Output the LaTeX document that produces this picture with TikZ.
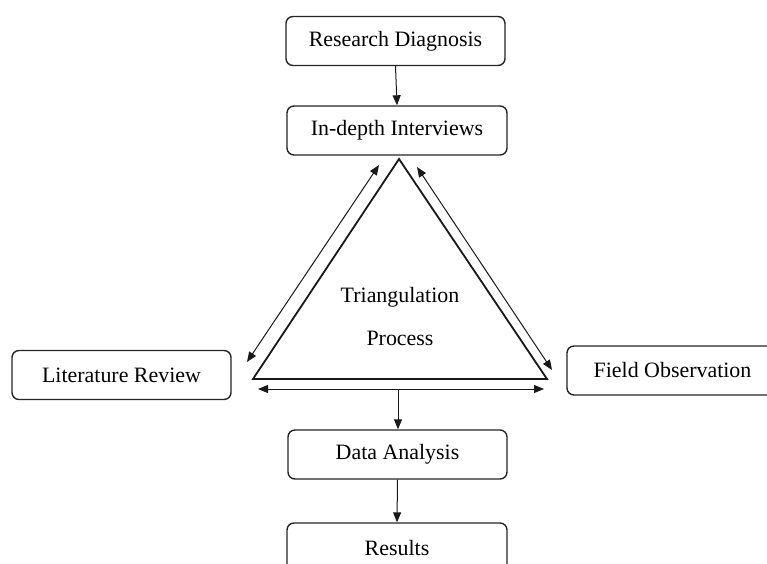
\documentclass[tikz,border=0pt]{standalone}
\usepackage{fontspec}
\setmainfont{Liberation Serif}
\usetikzlibrary{arrows.meta}
\begin{document}
\begin{tikzpicture}[x=1bp,y=-1bp,
  box/.style={draw=black!85,line width=1.4bp,rounded corners=7bp,minimum height=49bp,inner sep=0pt,
     font=\fontsize{22}{26}\selectfont},
  lbl/.style={font=\fontsize{22}{26}\selectfont,inner sep=0pt},
  conn/.style={draw=black!90,line width=1bp,-{Triangle[length=10bp,width=8bp]}},
  dconn/.style={draw=black!90,line width=1bp,{Triangle[length=10bp,width=8bp]}-{Triangle[length=10bp,width=8bp]}},
  tri/.style={draw=black!90,line width=1.8bp,line join=miter}]
\clip (0,0) rectangle (767,564);
\fill[white] (0,0) rectangle (767,564);

\node[box,minimum width=219bp] (rd) at (395.5,41) {Research Diagnosis};
\node[box,minimum width=220bp] (id) at (397,130.5) {In-depth Interviews};
\node[box,minimum width=219bp] (lr) at (121.5,375) {Literature Review};
\node[box,minimum width=211bp] (fo) at (672.5,370.5) {Field Observation};
\node[box,minimum width=219bp] (da) at (397.5,454.5) {Data Analysis};
\node[box,minimum width=220bp] (rs) at (397,547.5) {Results};

\coordinate (apex) at (399,159);
\coordinate (bl) at (253,379);
\coordinate (br) at (547,379);
\draw[tri] (apex) -- (bl) -- (br) -- cycle;

\node[lbl] (t1) at (400,297) {Triangulation};
\node[lbl] (t2) at (400,338) {Process};

\coordinate (la) at (379,165);
\coordinate (lb) at (247,362);
\coordinate (ra) at (417,167);
\coordinate (rb) at (552,370);
\coordinate (ba) at (258,389);
\coordinate (bb) at (544,389);
\coordinate (bm) at (398,389);

\draw[conn] (rd.south) -- (id.north);
\draw[dconn] (la) -- (lb);
\draw[dconn] (ra) -- (rb);
\draw[dconn] (ba) -- (bb);
\draw[conn] (bm) -- (bm |- da.north);
\draw[conn] (da.south) -- (rs.north);
\end{tikzpicture}
\end{document}
